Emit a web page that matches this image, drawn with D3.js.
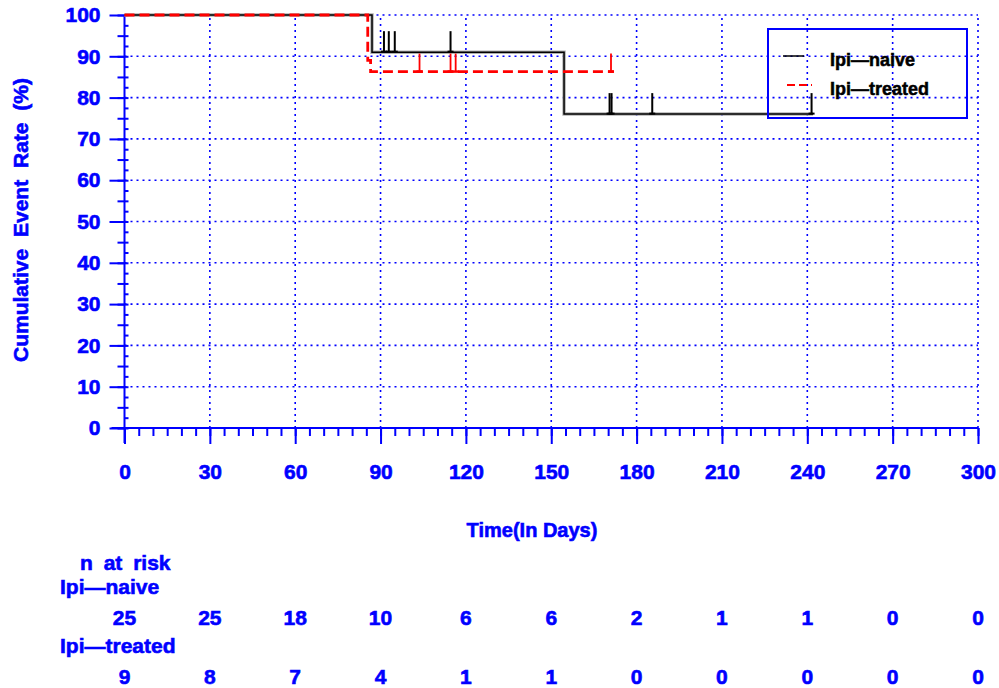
<!DOCTYPE html>
<html>
<head>
<meta charset="utf-8">
<script src="https://cdn.jsdelivr.net/npm/d3@7"></script>
<style>
  html, body { margin: 0; padding: 0; background: #fff; }
  svg { display: block; }
  text { font-family: "Liberation Sans", Arial, sans-serif; font-weight: bold; }
</style>
</head>
<body>
<svg id="chart" width="999" height="688"></svg>
<script>
// ---------- data ----------
const seriesNames = ["Ipi\u2014naive", "Ipi\u2014treated"];
// step curves: time (days) at which each level starts, and the level (%)
const naiveStepTimes = [0, 87, 154.5];
const naiveStepValues = [100, 91, 76];
const naiveEndTime = 242;
const naiveCensorTimes = [91.2, 92.9, 95.0, 114.6, 170.5, 171.2, 185.5, 241.5];

const treatedStepTimes = [0, 85.5, 86.5];
const treatedStepValues = [100, 89, 86.3];
const treatedEndTime = 172;
const treatedCensorTimes = [103.7, 114.6, 116.4, 171.0];

const xTicks = [0, 30, 60, 90, 120, 150, 180, 210, 240, 270, 300];
const yTicks = [0, 10, 20, 30, 40, 50, 60, 70, 80, 90, 100];
const riskNaive = [25, 25, 18, 10, 6, 6, 2, 1, 1, 0, 0];
const riskTreated = [9, 8, 7, 4, 1, 1, 0, 0, 0, 0, 0];

// ---------- setup ----------
const svg = d3.select("#chart");
const blue = "#0000ff";
const x = d3.scaleLinear().domain([0, 300]).range([124.5, 978]);
const y = d3.scaleLinear().domain([0, 100]).range([428, 15]);

// ---------- grid ----------
const grid = svg.append("g");
grid.selectAll("line.h").data(yTicks.filter(d => d > 0)).join("line")
  .attr("x1", x(0)).attr("x2", x(300))
  .attr("y1", d => y(d)).attr("y2", d => y(d))
  .attr("stroke", blue).attr("stroke-width", 1.6).attr("stroke-dasharray", "2,4");
grid.selectAll("line.v").data(xTicks.filter(d => d > 0)).join("line")
  .attr("x1", d => x(d)).attr("x2", d => x(d))
  .attr("y1", y(0)).attr("y2", y(100))
  .attr("stroke", blue).attr("stroke-width", 1.6).attr("stroke-dasharray", "2,4");

// ---------- axes ----------
function styleAxis(g) {
  g.selectAll(".tick line").attr("stroke", blue).attr("stroke-width", 2);
  g.selectAll("text").attr("fill", blue).attr("stroke", blue).attr("stroke-width", 0.6)
    .style("font-size", "21px").style("font-family", '"Liberation Sans", Arial, sans-serif').style("font-weight", "bold");
  g.select(".domain").remove();
}
// x minor
svg.append("g").attr("transform", `translate(0,${y(0)})`)
  .call(d3.axisBottom(x).tickValues(d3.range(0, 301, 5)).tickSize(8).tickFormat(""))
  .call(styleAxis);
// x major
svg.append("g").attr("transform", `translate(0,${y(0)})`)
  .call(d3.axisBottom(x).tickValues(xTicks).tickSize(16).tickPadding(20).tickFormat(d3.format("d")))
  .call(styleAxis);
// y 2.5 nubs on right
svg.append("g").attr("transform", `translate(${x(0)},0)`)
  .call(d3.axisRight(y).tickValues(d3.range(0, 101, 2.5)).tickSize(4).tickFormat(""))
  .call(styleAxis);
// y 5 ticks
svg.append("g").attr("transform", `translate(${x(0)},0)`)
  .call(d3.axisLeft(y).tickValues(d3.range(0, 101, 5)).tickSize(7).tickFormat(""))
  .call(styleAxis);
// y major
svg.append("g").attr("transform", `translate(${x(0)},0)`)
  .call(d3.axisLeft(y).tickValues(yTicks).tickSize(15).tickPadding(9).tickFormat(d3.format("d")))
  .call(styleAxis);
// axis lines
svg.append("line").attr("x1", x(0) - 13).attr("x2", x(300)).attr("y1", y(0)).attr("y2", y(0))
  .attr("stroke", blue).attr("stroke-width", 2);
svg.append("line").attr("x1", x(0)).attr("x2", x(0)).attr("y1", y(100)).attr("y2", y(0) + 15)
  .attr("stroke", blue).attr("stroke-width", 2);

// axis titles
svg.append("text").attr("x", 532).attr("y", 537).attr("text-anchor", "middle")
  .attr("fill", blue).attr("stroke", blue).attr("stroke-width", 0.6)
  .style("font-size", "20px").text("Time(In Days)");
svg.append("text").attr("transform", "translate(28,220) rotate(-90)").attr("text-anchor", "middle")
  .attr("fill", blue).attr("stroke", blue).attr("stroke-width", 0.6)
  .style("font-size", "21px").style("word-spacing", "6px").text("Cumulative Event Rate (%)");

// ---------- curves ----------
function stepPoints(times, values, endT) {
  const pts = [];
  times.forEach((t, i) => {
    if (i > 0) pts.push([t, values[i - 1]]);
    pts.push([t, values[i]]);
  });
  pts.push([endT, values[values.length - 1]]);
  return pts;
}
function valueAt(times, values, t) {
  let v = values[0];
  times.forEach((tt, i) => { if (t >= tt) v = values[i]; });
  return v;
}
const line = d3.line().x(d => x(d[0])).y(d => y(d[1]));

const naivePts = stepPoints(naiveStepTimes, naiveStepValues, naiveEndTime);
svg.append("path").attr("d", line(naivePts)).attr("fill", "none")
  .attr("stroke", "#b0b0b0").attr("stroke-width", 3.5);
svg.append("path").attr("d", line(naivePts)).attr("fill", "none")
  .attr("stroke", "#000").attr("stroke-width", 1.5);
// naive censor marks
const nc = svg.append("g");
naiveCensorTimes.forEach(t => {
  const v = valueAt(naiveStepTimes, naiveStepValues, t);
  nc.append("line").attr("x1", x(t)).attr("x2", x(t)).attr("y1", y(v)).attr("y2", y(v) - 21)
    .attr("stroke", "#000").attr("stroke-width", 2);
  nc.append("line").attr("x1", x(t) - 3).attr("x2", x(t) + 3).attr("y1", y(v) - 0.5).attr("y2", y(v) - 0.5)
    .attr("stroke", "#000").attr("stroke-width", 2);
});

const treatedPts = stepPoints(treatedStepTimes, treatedStepValues, treatedEndTime);
svg.append("path").attr("d", line(treatedPts)).attr("fill", "none")
  .attr("stroke", "#ff0000").attr("stroke-width", 2.8).attr("stroke-dasharray", "10,5");
const tc = svg.append("g");
treatedCensorTimes.forEach(t => {
  const v = valueAt(treatedStepTimes, treatedStepValues, t);
  tc.append("line").attr("x1", x(t)).attr("x2", x(t)).attr("y1", y(v)).attr("y2", y(v) - 18)
    .attr("stroke", "#ff0000").attr("stroke-width", 1.8);
  tc.append("line").attr("x1", x(t) - 3).attr("x2", x(t) + 3).attr("y1", y(v)).attr("y2", y(v))
    .attr("stroke", "#ff0000").attr("stroke-width", 2.5);
});

// ---------- legend ----------
const lg = svg.append("g");
lg.append("rect").attr("x", 768).attr("y", 29).attr("width", 199).attr("height", 89)
  .attr("fill", "none").attr("stroke", blue).attr("stroke-width", 2);
lg.append("line").attr("x1", 783).attr("x2", 804).attr("y1", 56).attr("y2", 56)
  .attr("stroke", "#000").attr("stroke-width", 1.5);
lg.append("line").attr("x1", 787).attr("x2", 812).attr("y1", 85).attr("y2", 85)
  .attr("stroke", "#ff0000").attr("stroke-width", 2).attr("stroke-dasharray", "8,4");
lg.append("text").attr("x", 830).attr("y", 66).attr("fill", "#000").attr("stroke", "#000").attr("stroke-width", 0.5)
  .style("font-size", "18px").text(seriesNames[0]);
lg.append("text").attr("x", 830).attr("y", 95).attr("fill", "#000").attr("stroke", "#000").attr("stroke-width", 0.5)
  .style("font-size", "18px").text(seriesNames[1]);

// ---------- risk table ----------
const rt = svg.append("g").attr("fill", blue).attr("stroke", blue).attr("stroke-width", 0.6).style("font-size", "21px");
rt.append("text").attr("x", 80).attr("y", 570).style("word-spacing", "5px").text("n at risk");
rt.append("text").attr("x", 60).attr("y", 594).text(seriesNames[0]);
rt.append("text").attr("x", 60).attr("y", 653).text(seriesNames[1]);
rt.selectAll("text.r1").data(riskNaive).join("text")
  .attr("x", (d, i) => x(xTicks[i])).attr("y", 625).attr("text-anchor", "middle").text(d => d);
rt.selectAll("text.r2").data(riskTreated).join("text")
  .attr("x", (d, i) => x(xTicks[i])).attr("y", 684).attr("text-anchor", "middle").text(d => d);
</script>
</body>
</html>
